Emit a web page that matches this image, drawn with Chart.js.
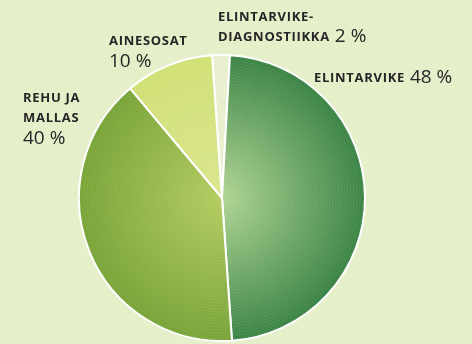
<!DOCTYPE html>
<html>
<head>
<meta charset="utf-8">
<script src="https://cdn.jsdelivr.net/npm/chart.js@4"></script>
<style>
  html, body { margin: 0; padding: 0; background: #e5efca; }
  #wrap { width: 472px; height: 344px; }
</style>
</head>
<body>
<div id="wrap"><canvas id="pieChart" width="472" height="344"></canvas></div>
<script>
// 分類と osuudet (%)
const CATEGORIES = ["ELINTARVIKE-DIAGNOSTIIKKA", "ELINTARVIKE", "REHU JA MALLAS", "AINESOSAT"];
const SHARES = [2, 48, 40, 10];

// värit: [keskellä, reunalla]
const COLORS = [
  ["#e8f0d0", "#e8f0d0"],
  ["#b0d594", "#3a8345"],
  ["#b4cc60", "#79a438"],
  ["#dbe690", "#d2e078"]
];

// tekstit: nimirivit + prosentti
const LABELS = [
  { lines: ["ELINTARVIKE-", "DIAGNOSTIIKKA"], x: 218, y: 21, inline: true },
  { lines: ["ELINTARVIKE"], x: 314, y: 82, inline: true },
  { lines: ["REHU JA", "MALLAS"], x: 23, y: 102, inline: false },
  { lines: ["AINESOSAT"], x: 109, y: 45, inline: false }
];

function sliceFill(ctx) {
  const i = ctx.dataIndex;
  const area = ctx.chart.chartArea;
  if (!area) return COLORS[i][1];
  const cx = (area.left + area.right) / 2;
  const cy = (area.top + area.bottom) / 2;
  const r = Math.min(area.right - area.left, area.bottom - area.top) / 2;
  const g = ctx.chart.ctx.createRadialGradient(cx, cy, 0, cx, cy, r);
  g.addColorStop(0, COLORS[i][0]);
  g.addColorStop(1, COLORS[i][1]);
  return g;
}

// ohuet renkaat tummempien sektoreiden päälle
const ringPlugin = {
  id: "rings",
  afterDatasetsDraw(chart) {
    const c = chart.ctx;
    const meta = chart.getDatasetMeta(0);
    [1, 2].forEach(i => {
      const a = meta.data[i];
      c.save();
      c.beginPath();
      c.moveTo(a.x, a.y);
      c.arc(a.x, a.y, a.outerRadius - 1, a.startAngle + 0.01, a.endAngle - 0.01);
      c.closePath();
      c.clip();
      c.strokeStyle = "rgba(255,255,255,0.07)";
      c.lineWidth = 1;
      for (let r = 3; r < a.outerRadius; r += 3) {
        c.beginPath();
        c.arc(a.x, a.y, r, 0, Math.PI * 2);
        c.stroke();
      }
      c.restore();
    });
  }
};

const labelPlugin = {
  id: "sliceLabels",
  afterDraw(chart) {
    const c = chart.ctx;
    c.save();
    c.fillStyle = "#262626";
    c.textBaseline = "alphabetic";
    c.textAlign = "left";
    LABELS.forEach((lab, i) => {
      const pct = SHARES[i] + " %";
      let y = lab.y;
      lab.lines.forEach((line, k) => {
        c.font = "bold 13px 'Open Sans'";
        c.letterSpacing = "0.7px";
        c.fillText(line, lab.x, y);
        if (lab.inline && k === lab.lines.length - 1) {
          const w = c.measureText(line).width;
          c.font = "19px 'Open Sans'";
          c.letterSpacing = "0px";
          c.fillText(pct, lab.x + w + 5, y + 1);
        }
        y += 20;
      });
      if (!lab.inline) {
        c.font = "19px 'Open Sans'";
        c.letterSpacing = "0px";
        c.fillText(pct, lab.x, y + 2);
      }
    });
    c.restore();
  }
};

const chart = new Chart(document.getElementById("pieChart"), {
  type: "pie",
  data: {
    labels: CATEGORIES,
    datasets: [{
      data: SHARES,
      backgroundColor: sliceFill,
      borderColor: "#ffffff",
      borderWidth: 2
    }]
  },
  options: {
    responsive: false,
    animation: false,
    rotation: -4,
    layout: { padding: { left: 0, right: 28, top: 54, bottom: 2 } },
    plugins: { legend: { display: false }, tooltip: { enabled: false } }
  },
  plugins: [ringPlugin, labelPlugin]
});
</script>
</body>
</html>
